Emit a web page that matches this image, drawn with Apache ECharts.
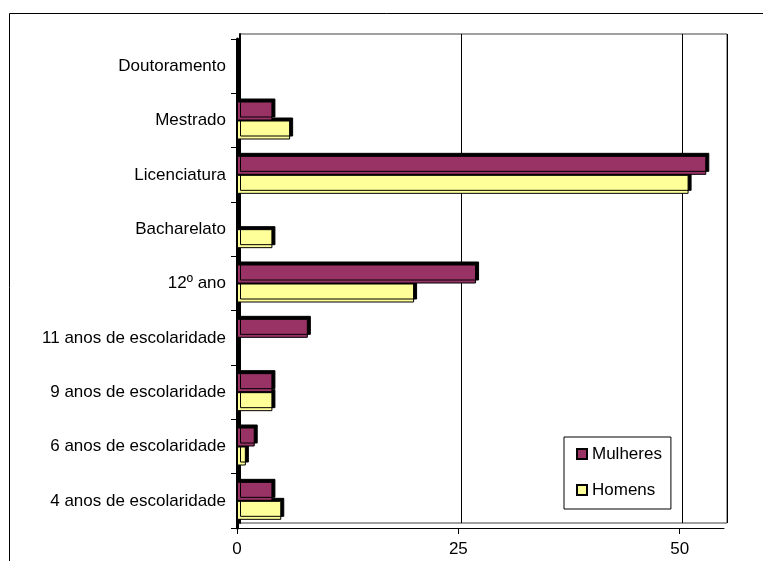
<!DOCTYPE html>
<html>
<head>
<meta charset="utf-8">
<script src="https://cdn.jsdelivr.net/npm/echarts@6/dist/echarts.min.js"></script>
<style>
  html, body { margin: 0; padding: 0; background: #fff; }
  #chart { width: 763px; height: 561px; }
</style>
</head>
<body>
<div id="chart"></div>
<script>
// Education level, listed top to bottom
const categories = [
  'Doutoramento',
  'Mestrado',
  'Licenciatura',
  'Bacharelato',
  '12º ano',
  '11 anos de escolaridade',
  '9 anos de escolaridade',
  '6 anos de escolaridade',
  '4 anos de escolaridade'
];
const mulheres = [0, 4, 53, 0, 27, 8, 4, 2, 4];
const homens   = [0, 6, 51, 4, 20, 0, 4, 1, 5];
const xTicks = [0, 25, 50];

const FONT = 'Liberation Sans, Arial, sans-serif';
const chart = echarts.init(document.getElementById('chart'), null, { renderer: 'canvas' });

// flat face with a black offset silhouette giving the bars some depth
const barStyle = (color) => ({
  color: color,
  borderColor: '#000',
  borderWidth: 1,
  shadowColor: '#000',
  shadowBlur: 0,
  shadowOffsetX: 3,
  shadowOffsetY: -3
});

chart.setOption({
  animation: false,
  backgroundColor: '#fff',
  textStyle: { fontFamily: FONT },
  graphic: [{
    type: 'rect',
    shape: { x: 9.5, y: 13.5, width: 800, height: 600 },
    style: { fill: 'none', stroke: '#000', lineWidth: 1 },
    silent: true,
    z: -10
  }],
  grid: [
    // front plane: bars and axes
    { left: 237, right: 39, top: 39, bottom: 33 },
    // back wall with gridlines
    { left: 240, right: 36, top: 34, bottom: 38, show: true,
      borderColor: '#404040', borderWidth: 1, backgroundColor: 'transparent', z: 0 }
  ],
  legend: {
    data: ['Mulheres', 'Homens'],
    orient: 'vertical',
    left: 564,
    top: 437,
    padding: [8, 9, 10, 12],
    itemWidth: 10,
    itemHeight: 10,
    itemGap: 18,
    icon: 'rect',
    backgroundColor: '#fff',
    borderColor: '#000',
    borderWidth: 1,
    borderRadius: 0,
    textStyle: { fontSize: 17, color: '#000', fontFamily: FONT, lineHeight: 18, padding: [0, 0, 0, 0] },
    itemStyle: { shadowColor: 'transparent', shadowBlur: 0, shadowOffsetX: 0, shadowOffsetY: 0 }
  },
  xAxis: [
    {
      gridIndex: 0, type: 'value', min: 0, max: 55, interval: 25,
      axisLine: { show: true, lineStyle: { color: '#000', width: 1 } },
      axisTick: { show: true, length: 6, customValues: xTicks, lineStyle: { color: '#000' } },
      axisLabel: { customValues: xTicks, fontSize: 17, color: '#000', fontFamily: FONT, margin: 13 },
      splitLine: { show: false }
    },
    {
      gridIndex: 1, type: 'value', min: 0, max: 55, interval: 25,
      axisLine: { show: false }, axisTick: { show: false }, axisLabel: { show: false },
      splitLine: { show: true, lineStyle: { color: '#000', width: 1 } }
    }
  ],
  yAxis: [
    {
      gridIndex: 0, type: 'category', data: categories, inverse: true,
      axisLine: { show: true, lineStyle: { color: '#000', width: 3 } },
      axisTick: { show: true, length: 6, lineStyle: { color: '#000', width: 1 } },
      axisLabel: { fontSize: 17, color: '#000', fontFamily: FONT, margin: 11 },
      splitLine: { show: false }
    },
    {
      gridIndex: 1, type: 'category', data: categories, inverse: true,
      axisLine: { show: true, lineStyle: { color: '#000', width: 2 } },
      axisTick: { show: false }, axisLabel: { show: false },
      splitLine: { show: false }
    }
  ],
  series: [
    {
      name: 'Mulheres', type: 'bar', xAxisIndex: 0, yAxisIndex: 0,
      data: mulheres, barWidth: 19, barGap: '0%', z: 3,
      itemStyle: barStyle('#993366')
    },
    {
      name: 'Homens', type: 'bar', xAxisIndex: 0, yAxisIndex: 0,
      data: homens, barWidth: 19, barGap: '0%', z: 2,
      itemStyle: barStyle('#FFFF99')
    }
  ]
});
</script>
</body>
</html>
